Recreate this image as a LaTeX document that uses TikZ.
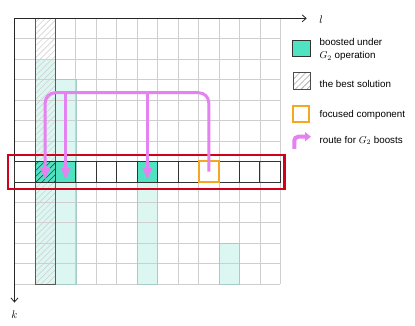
\documentclass[tikz,border=0pt]{standalone}
\usepackage{fontspec}
\usepackage{tikz}
\usetikzlibrary{arrows.meta, positioning, calc, patterns.meta}
\newfontfamily\keyfont{Liberation Sans}

\definecolor{boostteal}{HTML}{50E3C2}
\definecolor{paleteal}{HTML}{DCF7F2}
\definecolor{tealedge}{HTML}{A6CCC5}
\definecolor{routepink}{HTML}{E582F2}
\definecolor{focusorange}{HTML}{F5A623}
\definecolor{framered}{HTML}{D0021B}

\begin{document}
\begin{tikzpicture}[x=20.45pt, y=-20.45pt,
    cellbox/.style={draw=black!80, line width=0.8pt, minimum size=20.45pt, inner sep=0pt},
    focusbox/.style={draw=focusorange, line width=2pt, minimum size=20.45pt, inner sep=0pt},
    hatch/.style={pattern={Lines[angle=45, distance=4.2pt, line width=0.6pt]}},
    route/.style={draw=routepink, line width=3pt, -{Triangle[width=9pt, length=12pt]}},
    keytext/.style={font=\keyfont\fontsize{9.8}{12}\selectfont, anchor=base west, inner sep=0pt},
    axis/.style={draw=black!85, line width=0.8pt, -{Straight Barb[length=4pt, width=7pt]}}]
    \useasboundingbox (-0.709, -0.895) rectangle (19.585, 15.0);

    % Shaded columns
    \fill[paleteal] (1, 2) rectangle (2, 13);
    \fill[paleteal] (2, 3) rectangle (3, 13);
    \fill[paleteal] (6, 8) rectangle (7, 13);
    \fill[paleteal] (10, 11) rectangle (11, 13);
    \fill[hatch, pattern color=gray!35] (1, 0) rectangle (2, 13); % best solution

    % Grid
    \foreach \i in {0,...,13} {
        \draw[gray!38, line width=0.7pt] (\i, 0) -- (\i, 13);
        \draw[gray!38, line width=0.7pt] (0, \i) -- (13, \i);
    }
    \draw[tealedge] (2, 3) rectangle (3, 13);
    \draw[tealedge] (6, 8) rectangle (7, 13);
    \draw[tealedge] (10, 11) rectangle (11, 13);
    \draw[black!65] (1, 0) rectangle (2, 13);

    % Axes
    \coordinate (origin) at (0, 0);
    \draw[axis] (origin) -- (14.29, 0);
    \draw[axis] (origin) -- (0, 13.9);
    \node[font=\fontsize{11}{13}\selectfont, inner sep=0pt] (lbl-l) at (14.99, 0.08) {$l$};
    \node[font=\fontsize{11}{13}\selectfont, inner sep=0pt] (lbl-k) at (0, 14.48) {$k$};

    % Focused row
    \fill[boostteal] (1, 7) rectangle (3, 8);
    \fill[boostteal] (6, 7) rectangle (7, 8);
    \fill[hatch, pattern color=black!75] (1, 7) rectangle (2, 8);
    \foreach \i in {0,...,12}
        \node[cellbox] (c\i) at (\i+0.5, 7.5) {};
    \node[focusbox] (f) at (9.5, 7.5) {};
    \draw[framered, line width=2.2pt] (-0.33, 6.68) rectangle (13.2, 8.34);

    % Routes
    \coordinate (rail) at (0, 3.64);
    \draw[route, rounded corners=10pt] (f.center) -- (f.center |- rail) -- (c1 |- rail) -- ($(c1.center)+(0, 0.4)$);
    \draw[route] (c2 |- rail) -- ($(c2.center)+(0, 0.4)$);
    \draw[route] (c6 |- rail) -- ($(c6.center)+(0, 0.4)$);

    % Legend
    \node[draw=black!80, fill=boostteal, line width=0.8pt, minimum width=18pt, minimum height=16pt, inner sep=0pt] (keyboost) at (14.01, 1.49) {};
    \node[draw=black!70, hatch, pattern color=gray!75, line width=0.8pt, minimum size=17pt, inner sep=0pt] (keybest) at (14.045, 3.08) {};
    \node[draw=focusorange, fill=white, line width=2pt, minimum size=16pt, inner sep=0pt] (keyfocus) at (14.025, 4.70) {};
    \draw[routepink, line width=4pt, rounded corners=4pt, -{Triangle[width=9pt, length=6pt]}] (13.68, 6.39) -- (13.68, 5.79) -- (14.5, 5.79);

    \node[keytext] (keyboosttext) at (14.91, 1.34) {boosted under};
    \node[keytext] (keyboostop) at (14.91, 1.97) {$G_2$ operation};
    \node[keytext] (keybesttext) at (14.91, 3.374) {the best solution};
    \node[keytext] (keyfocustext) at (14.91, 4.841) {focused component};
    \node[keytext] (keyroutetext) at (14.91, 6.112) {route for $G_2$ boosts};

\end{tikzpicture}
\end{document}
